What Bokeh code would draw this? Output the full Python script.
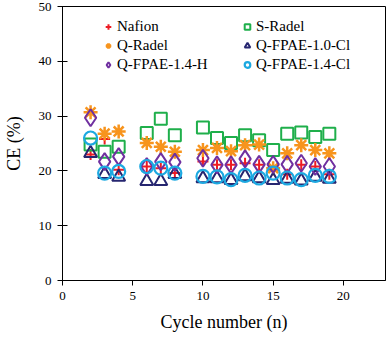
from bokeh.plotting import figure
from bokeh.models import Range1d, Legend, LegendItem, FixedTicker
from bokeh.embed import file_html
from bokeh.resources import INLINE

cycles = [2, 3, 4, 6, 7, 8, 10, 11, 12, 13, 14, 15, 16, 17, 18, 19]
nafion = [23.0, 25.8, 20.2, 20.8, 20.5, 19.6, 21.7, 21.1, 21.1, 21.4, 21.1, 20.2, 19.4, 21.1, 20.8, 19.4]
s_radel = [24.8, 23.5, 24.4, 26.9, 29.5, 26.5, 27.9, 26.0, 25.1, 26.5, 25.6, 23.8, 26.8, 27.0, 26.2, 26.8]
q_radel = [30.7, 26.8, 27.2, 25.1, 24.4, 23.5, 23.8, 24.2, 23.6, 24.7, 24.8, 20.5, 23.2, 24.7, 23.8, 23.2]
fpae_10_cl = [23.2, 19.4, 18.9, 18.1, 18.1, 19.4, 18.6, 18.6, 18.3, 19.0, 18.6, 18.3, 18.5, 18.2, 18.9, 18.5]
fpae_14_h = [29.7, 21.7, 22.6, 20.8, 21.7, 21.6, 22.3, 21.1, 21.1, 22.2, 21.2, 21.2, 21.2, 21.4, 20.8, 20.8]
fpae_14_cl = [26.0, 19.6, 19.9, 20.8, 20.5, 19.6, 19.0, 18.9, 18.4, 19.2, 18.7, 19.6, 18.7, 18.4, 19.2, 19.0]

x_ticks = [0, 5, 10, 15, 20]
y_ticks = [0, 10, 20, 30, 40, 50]

FONT = "Liberation Serif"

p = figure(frame_width=323, frame_height=274, output_backend="svg", toolbar_location=None,
           x_range=Range1d(0, 23), y_range=Range1d(0, 50),
           min_border_left=54, min_border_right=2, min_border_top=6, min_border_bottom=46)
p.background_fill_color = "white"
p.border_fill_color = "white"
p.outline_line_color = "black"
p.outline_line_width = 1
p.xgrid.visible = False
p.ygrid.visible = False

for ax in (p.xaxis[0], p.yaxis[0]):
    ax.axis_line_color = "black"
    ax.major_tick_line_color = "black"
    ax.minor_tick_line_color = None
    ax.major_label_text_font = FONT
    ax.major_label_text_font_size = "13px"
    ax.major_label_text_color = "black"
    ax.axis_label_text_font = FONT
    ax.axis_label_text_font_size = "18px"
    ax.axis_label_text_font_style = "normal"
    ax.axis_label_text_color = "black"

p.xaxis.ticker = FixedTicker(ticks=x_ticks)
p.yaxis.ticker = FixedTicker(ticks=y_ticks)
p.xaxis.major_tick_in = 0
p.xaxis.major_tick_out = 5
p.yaxis.major_tick_in = 5
p.yaxis.major_tick_out = 5
p.xaxis.major_label_standoff = 6
p.yaxis.major_label_standoff = 6
p.xaxis.axis_label = "Cycle number (n)"
p.yaxis.axis_label = "CE (%)"
p.xaxis.axis_label_standoff = 9
p.yaxis.axis_label_standoff = 12

r_naf = p.scatter(cycles, nafion, marker="cross", size=11, line_color="#ED1C24", line_width=2)
r_srad = p.scatter(cycles, s_radel, marker="square", size=12, fill_color=None, line_color="#1FAF4B", line_width=2)
r_qrad = p.scatter(cycles, q_radel, marker="asterisk", size=14, line_color="#F7941D", line_width=2.5)
r_f10 = p.scatter(cycles, fpae_10_cl, marker="triangle", size=13, fill_color=None, line_color="#262670", line_width=2)
r_f14h = p.scatter(cycles, fpae_14_h, marker="diamond", size=17, fill_color=None, line_color="#7030A0", line_width=2)
r_f14c = p.scatter(cycles, fpae_14_cl, marker="circle", size=13, fill_color=None, line_color="#1CA9E1", line_width=2.2)

def make_legend(items, x, y):
    lg = Legend(items=items, location=(x, y), orientation="vertical")
    lg.background_fill_alpha = 0
    lg.border_line_color = None
    lg.padding = 0
    lg.margin = 0
    lg.spacing = 2
    lg.glyph_width = 14
    lg.glyph_height = 17
    lg.label_height = 17
    lg.label_standoff = 2
    lg.label_text_font = FONT
    lg.label_text_font_size = "15px"
    lg.label_text_color = "black"
    return lg

legend_left = make_legend([
    LegendItem(label="Nafion", renderers=[r_naf]),
    LegendItem(label="Q-Radel", renderers=[r_qrad]),
    LegendItem(label="Q-FPAE-1.4-H", renderers=[r_f14h]),
], 39, 207)
legend_right = make_legend([
    LegendItem(label="S-Radel", renderers=[r_srad]),
    LegendItem(label="Q-FPAE-1.0-Cl", renderers=[r_f10]),
    LegendItem(label="Q-FPAE-1.4-Cl", renderers=[r_f14c]),
], 178, 207)
p.add_layout(legend_left, "center")
p.add_layout(legend_right, "center")

open("out.html", "w").write(file_html(p, INLINE))
